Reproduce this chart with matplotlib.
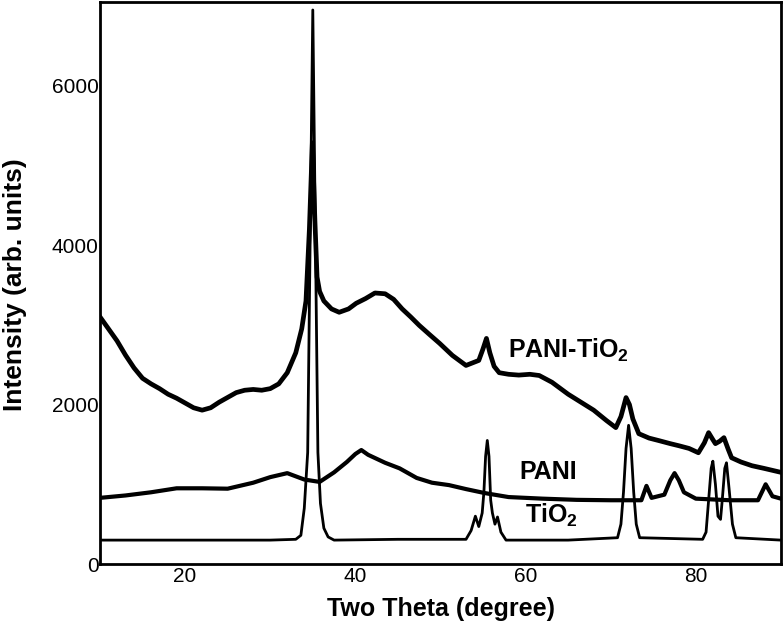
import matplotlib
matplotlib.use("Agg")
import matplotlib.pyplot as plt

# XRD patterns (2theta in degrees, intensity in arb. units)
pani_tio2_x = [10, 11, 12, 13, 14, 15, 16, 17, 18, 19, 20, 21, 22, 23, 24, 25, 26, 27, 28,
               29, 30, 31, 32, 33, 33.7, 34.2, 34.6, 34.95, 35.25, 35.5, 35.8, 36.3, 37.2,
               38.1, 39.2, 40.1, 41.2, 42.3, 43.5, 44.5, 45.5, 46.5, 47.5, 48.7, 49.9,
               51.4, 53.0, 54.5, 55.0, 55.4, 55.8, 56.3, 56.9, 58.0, 59.2, 60.5, 61.6,
               63.1, 65.0, 66.5, 68.0, 69.5, 70.6, 71.2, 71.8, 72.2, 72.6, 73.3, 74.5,
               75.7, 77.0, 78.0, 79.2, 80.3, 81.0, 81.5, 82.0, 82.3, 82.8, 83.3, 83.8,
               84.2, 85.3, 86.6, 88.0, 90]
pani_tio2_y = [3100, 2950, 2800, 2620, 2460, 2330, 2260, 2200, 2130, 2080, 2020, 1960, 1930,
               1960, 2030, 2090, 2150, 2180, 2190, 2180, 2200, 2260, 2400, 2650, 2950,
               3300, 4200, 5284, 4300, 3600, 3420, 3300, 3200, 3158, 3200, 3271, 3330,
               3400, 3390, 3320, 3200, 3100, 2994, 2880, 2768, 2617, 2491, 2554, 2700,
               2830, 2650, 2480, 2400, 2380, 2370, 2380, 2365, 2280, 2130, 2030, 1930,
               1800, 1711, 1850, 2088, 2000, 1820, 1635, 1580, 1547, 1510, 1484, 1450,
               1396, 1520, 1648, 1560, 1510, 1540, 1585, 1440, 1333, 1280, 1233, 1200,
               1150]

pani_x = [10, 13, 16, 19, 22, 25, 28, 30, 32, 34, 35.8, 37.5, 39, 40.0, 40.7, 41.5, 43.5,
          45.2, 47.2, 49, 51, 53, 55.2, 58, 62, 66, 70, 73.6, 74.2, 74.8, 76.3, 77.0, 77.5,
          78.0, 78.6, 80, 84, 87.3, 88.2, 89, 90]
pani_y = [830, 860, 900, 950, 950, 945, 1020, 1090, 1140, 1060, 1030, 1150, 1280, 1380,
          1430, 1370, 1270, 1200, 1080, 1020, 990, 940, 890, 840, 820, 805, 800, 800, 980,
          830, 870, 1050, 1140, 1050, 900, 820, 800, 800, 1000, 850, 820]

tio2_x = [10, 20, 30, 33.0, 33.6, 34.0, 34.4, 35.0, 35.6, 35.9, 36.3, 36.8, 37.5, 45,
          53.0, 53.6, 54.1, 54.5, 54.9, 55.1, 55.3, 55.5, 55.7, 55.9, 56.1, 56.4, 56.7,
          57.1, 57.7, 65, 70.8, 71.2, 71.5, 71.8, 72.1, 72.4, 72.7, 73.0, 73.4, 80.8,
          81.2, 81.5, 81.8, 82.0, 82.3, 82.6, 82.9, 83.1, 83.4, 83.6, 83.9, 84.3, 84.7, 90]
tio2_y = [300, 300, 300, 310, 360, 700, 1400, 6950, 1400, 760, 450, 340, 300, 310,
          310, 420, 600, 470, 640, 900, 1350, 1550, 1350, 800, 640, 500, 590,
          400, 300, 300, 330, 500, 900, 1450, 1740, 1450, 900, 500, 330, 310,
          400, 800, 1200, 1290, 1000, 600, 560, 800, 1200, 1270, 950, 500, 330, 300]

x_ticks = [20, 40, 60, 80]
y_ticks = [0, 2000, 4000, 6000]

plt.rcParams["font.family"] = "Liberation Sans"

fig = plt.figure(figsize=(7.83, 6.26), dpi=100)
ax = fig.add_axes([0.1277, 0.099, 0.8697, 0.8978])

ax.plot(pani_tio2_x, pani_tio2_y, color="black", lw=3.4, solid_joinstyle="round")
ax.plot(pani_x, pani_y, color="black", lw=3, solid_joinstyle="round")
ax.plot(tio2_x, tio2_y, color="black", lw=2, solid_joinstyle="round")

# curve labels
ax.text(57.9, 2680, "PANI-TiO$_\\mathregular{2}$", fontweight="bold", fontsize=18,
        va="center", ha="left")
ax.text(59.3, 1157, "PANI", fontweight="bold", fontsize=18, va="center", ha="left")
ax.text(59.9, 616, "TiO$_\\mathregular{2}$", fontweight="bold", fontsize=18,
        va="center", ha="left")

ax.set_xlim(10, 90)
ax.set_ylim(0, 7050)
ax.set_xticks(x_ticks)
ax.set_yticks(y_ticks)
ax.tick_params(length=0, labelsize=15)
ax.tick_params(axis="x", pad=2)
ax.tick_params(axis="y", pad=1)

for sp in ax.spines.values():
    sp.set_linewidth(2)
    sp.set_color("black")

fig.text(441 / 783, 1 - 609 / 626, "Two Theta (degree)", fontweight="bold",
         fontsize=18, ha="center", va="center")
fig.text(15 / 783, 1 - 285 / 626, "Intensity (arb. units)", fontweight="bold",
         fontsize=19, rotation=90, ha="center", va="center")

fig.savefig("out.png", dpi=100)
